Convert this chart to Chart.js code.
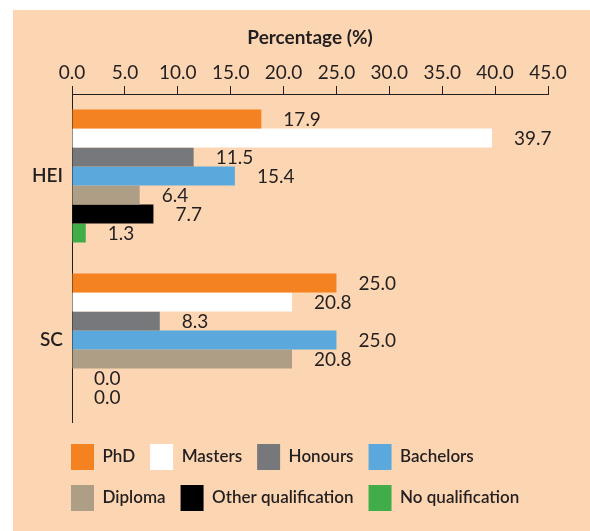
<!DOCTYPE html>
<html><head><meta charset="utf-8">
<script src="https://cdn.jsdelivr.net/npm/chart.js@4/dist/chart.umd.min.js"></script>
<style>
html,body{margin:0;padding:0;background:#ffffff;}
#wrap{position:absolute;left:13px;top:10px;width:577px;height:521px;background:#FCD6B2;}
canvas{display:block;}
</style></head><body>
<div id="wrap"><canvas id="c" width="577" height="521"></canvas></div>
<script>
const categories = ['HEI', 'SC'];
const seriesNames = ['PhD', 'Masters', 'Honours', 'Bachelors', 'Diploma', 'Other qualification', 'No qualification'];
const phd = [17.9, 25.0];
const masters = [39.7, 20.8];
const honours = [11.5, 8.3];
const bachelors = [15.4, 25.0];
const diploma = [6.4, 20.8];
const otherQual = [7.7, 0.0];
const noQual = [1.3, 0.0];
const xTicks = [0, 5, 10, 15, 20, 25, 30, 35, 40, 45];
const seriesColors = ['#F58220', '#FFFFFF', '#77787B', '#5BA8DC', '#AE9E86', '#000000', '#40AD48'];
const axisTitle = 'Percentage (%)';

const FONT = 'Lato';
const INK = '#231F20';
const seriesData = [phd, masters, honours, bachelors, diploma, otherQual, noQual];

const valueLabels = {
  id: 'valueLabels',
  afterDatasetsDraw(chart) {
    const ctx = chart.ctx;
    ctx.save();
    ctx.font = '19px ' + FONT;
    ctx.fillStyle = INK;
    ctx.textAlign = 'left';
    ctx.textBaseline = 'middle';
    chart.data.datasets.forEach((ds, i) => {
      const meta = chart.getDatasetMeta(i);
      meta.data.forEach((bar, j) => {
        ctx.fillText(Number(ds.data[j]).toFixed(1), bar.x + 22, bar.y + 1);
      });
    });
    ctx.restore();
  }
};

const legendPlace = {
  id: 'legendPlace',
  afterLayout(chart) {
    const lg = chart.legend;
    const dy = 419 - lg.top;
    lg.top += dy; lg.bottom += dy;
    lg.left = 43;
    lg.right = 560;
  }
};

new Chart(document.getElementById('c'), {
  type: 'bar',
  data: {
    labels: categories,
    datasets: seriesNames.map((n, i) => ({
      label: n,
      data: seriesData[i],
      backgroundColor: seriesColors[i],
      borderWidth: 0,
      barPercentage: 1.0,
      categoryPercentage: 0.811
    }))
  },
  plugins: [valueLabels, legendPlace],
  options: {
    indexAxis: 'y',
    responsive: false,
    animation: false,
    layout: { padding: { left: 0, right: 42, top: 0, bottom: 17 } },
    plugins: {
      tooltip: { enabled: false },
      legend: {
        position: 'bottom',
        align: 'start',
        labels: {
          boxWidth: 23,
          boxHeight: 26,
          padding: 15,
          color: INK,
          font: { family: FONT, size: 17, weight: '600' }
        }
      }
    },
    scales: {
      x: {
        position: 'top',
        min: 0,
        max: 45,
        afterBuildTicks: s => { s.ticks = xTicks.map(v => ({ value: v })); },
        afterFit: s => { s.height = 84; },
        ticks: {
          color: INK,
          padding: 2,
          font: { family: FONT, size: 19 },
          callback: v => Number(v).toFixed(1)
        },
        grid: { drawOnChartArea: false, drawTicks: true, tickLength: 8, color: INK },
        border: { display: true, color: INK, width: 1 },
        title: {
          display: true,
          text: axisTitle,
          color: INK,
          font: { family: FONT, size: 19, weight: 'bold' },
          padding: { top: 16, bottom: 0 }
        }
      },
      y: {
        afterFit: s => { s.width = 59; },
        ticks: { color: INK, padding: 9, font: { family: FONT, size: 19, weight: '600' } },
        grid: { display: false, drawTicks: false },
        border: { display: true, color: INK, width: 1 }
      }
    }
  }
});
</script>
</body></html>
